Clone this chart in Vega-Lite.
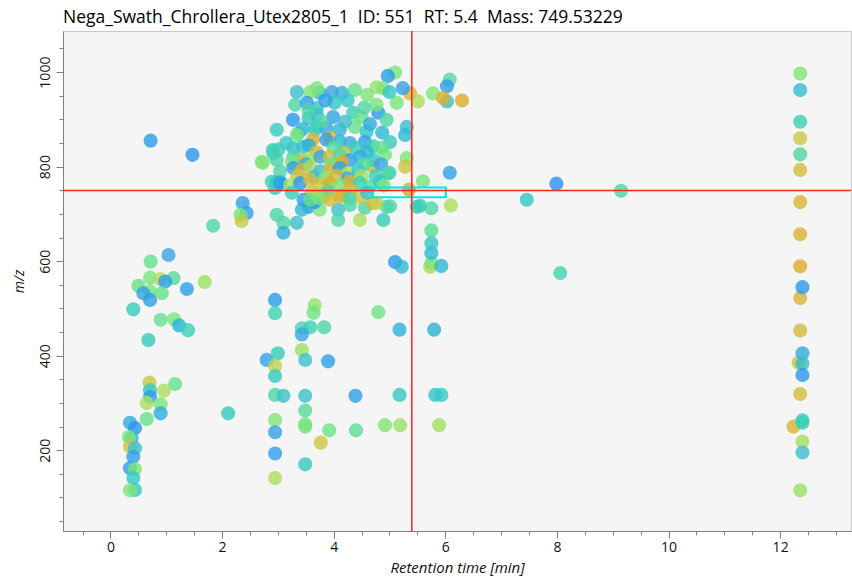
{
  "$schema": "https://vega.github.io/schema/vega-lite/v6.json",
  "width": 788,
  "height": 500,
  "autosize": {"type": "none"},
  "padding": {"left": 63, "top": 31, "right": 1, "bottom": 49},
  "background": "white",
  "config": {"view": {"fill": "#f5f5f5", "stroke": "#c8c8c8"}, "font": "Open Sans"},
  "title": {"text": "Nega_Swath_Chrollera_Utex2805_1\u00a0 ID: 551\u00a0 RT: 5.4\u00a0 Mass: 749.53229", "anchor": "start", "frame": "group", "offset": 4, "fontSize": 17.5, "fontWeight": "normal", "color": "#000000", "font": "Open Sans"},
  "resolve": {"axis": {"x": "independent", "y": "independent"}},
  "layer": [
    {
      "data": {"values": [
        {"t":0.72,"m":855,"c":0.08},{"t":1.47,"m":825,"c":0.05},{"t":2.73,"m":808,"c":0.62},{"t":2.37,"m":723,"c":0.12},{"t":2.44,"m":702,"c":0.10},{"t":2.33,"m":698,"c":0.60},{"t":2.35,"m":685,"c":0.82},{"t":1.84,"m":675,"c":0.45},
        {"t":1.04,"m":613,"c":0.15},{"t":0.72,"m":599,"c":0.55},{"t":0.50,"m":548,"c":0.55},{"t":0.71,"m":565,"c":0.60},{"t":0.89,"m":562,"c":0.75},{"t":1.13,"m":564,"c":0.50},{"t":0.98,"m":557,"c":0.10},{"t":0.71,"m":536,"c":0.60},{"t":0.59,"m":532,"c":0.12},{"t":0.71,"m":518,"c":0.10},{"t":0.92,"m":532,"c":0.55},{"t":1.37,"m":541,"c":0.10},{"t":1.69,"m":556,"c":0.68},{"t":0.41,"m":498,"c":0.38},{"t":0.90,"m":476,"c":0.55},{"t":1.14,"m":477,"c":0.60},{"t":1.23,"m":464,"c":0.22},{"t":1.39,"m":454,"c":0.40},{"t":0.68,"m":433,"c":0.38},
        {"t":0.70,"m":343,"c":0.82},{"t":0.71,"m":327,"c":0.35},{"t":0.71,"m":313,"c":0.08},{"t":0.96,"m":326,"c":0.72},{"t":1.16,"m":340,"c":0.55},{"t":0.65,"m":300,"c":0.72},{"t":0.90,"m":297,"c":0.60},{"t":0.90,"m":278,"c":0.20},{"t":0.65,"m":266,"c":0.55},{"t":2.11,"m":278,"c":0.38},
        {"t":0.35,"m":258,"c":0.18},{"t":0.44,"m":247,"c":0.02},{"t":0.38,"m":226,"c":0.22},{"t":0.33,"m":228,"c":0.60},{"t":0.35,"m":208,"c":0.85},{"t":0.44,"m":204,"c":0.30},{"t":0.41,"m":186,"c":0.10},{"t":0.35,"m":162,"c":0.10},{"t":0.44,"m":160,"c":0.60},{"t":0.41,"m":141,"c":0.35},{"t":0.44,"m":116,"c":0.35},{"t":0.35,"m":115,"c":0.62},
        {"t":2.95,"m":518,"c":0.08},{"t":2.95,"m":490,"c":0.42},{"t":3.66,"m":507,"c":0.65},{"t":3.64,"m":491,"c":0.58},{"t":4.80,"m":492,"c":0.58},{"t":3.43,"m":458,"c":0.45},{"t":3.58,"m":460,"c":0.40},{"t":3.83,"m":460,"c":0.45},{"t":3.43,"m":445,"c":0.15},{"t":5.18,"m":455,"c":0.20},{"t":5.80,"m":455,"c":0.22},
        {"t":3.43,"m":412,"c":0.68},{"t":3.49,"m":391,"c":0.32},{"t":3.90,"m":388,"c":0.10},{"t":2.80,"m":391,"c":0.12},{"t":3.00,"m":405,"c":0.38},{"t":2.95,"m":378,"c":0.80},{"t":2.95,"m":357,"c":0.38},{"t":2.95,"m":317,"c":0.45},{"t":3.10,"m":315,"c":0.32},{"t":3.49,"m":315,"c":0.32},{"t":4.39,"m":315,"c":0.10},{"t":5.18,"m":317,"c":0.35},{"t":5.82,"m":317,"c":0.35},{"t":5.93,"m":317,"c":0.35},
        {"t":3.49,"m":284,"c":0.50},{"t":2.95,"m":264,"c":0.62},{"t":2.95,"m":238,"c":0.12},{"t":3.49,"m":255,"c":0.62},{"t":3.49,"m":250,"c":0.58},{"t":3.92,"m":242,"c":0.56},{"t":4.40,"m":242,"c":0.52},{"t":4.92,"m":253,"c":0.62},{"t":5.19,"m":253,"c":0.68},{"t":5.89,"m":253,"c":0.70},{"t":3.77,"m":216,"c":0.85},{"t":2.95,"m":193,"c":0.10},{"t":3.49,"m":170,"c":0.38},{"t":2.95,"m":141,"c":0.72},
        {"t":5.10,"m":598,"c":0.05},{"t":5.22,"m":588,"c":0.25},{"t":5.73,"m":588,"c":0.80},{"t":5.75,"m":596,"c":0.60},{"t":5.93,"m":590,"c":0.25},{"t":5.75,"m":617,"c":0.25},{"t":5.75,"m":638,"c":0.35},{"t":5.75,"m":665,"c":0.50},{"t":5.75,"m":712,"c":0.45},{"t":5.55,"m":717,"c":0.40},{"t":6.10,"m":718,"c":0.72},{"t":5.60,"m":769,"c":0.60},{"t":6.08,"m":787,"c":0.12},
        {"t":7.46,"m":730,"c":0.35},{"t":7.99,"m":764,"c":0.02},{"t":9.15,"m":749,"c":0.45},{"t":8.06,"m":575,"c":0.42},
        {"t":2.98,"m":768,"c":0.15},{"t":2.95,"m":755,"c":0.35},{"t":3.55,"m":715,"c":0.05},{"t":3.43,"m":709,"c":0.25},{"t":2.98,"m":698,"c":0.45},{"t":3.10,"m":681,"c":0.45},{"t":3.34,"m":681,"c":0.30},{"t":3.10,"m":660,"c":0.20},{"t":3.75,"m":709,"c":0.60},{"t":4.08,"m":709,"c":0.30},{"t":4.08,"m":687,"c":0.45},{"t":4.47,"m":687,"c":0.72},{"t":4.29,"m":719,"c":0.45},{"t":4.56,"m":713,"c":0.45},{"t":4.70,"m":723,"c":0.92},{"t":4.95,"m":715,"c":0.45},{"t":4.89,"m":687,"c":0.38},{"t":3.66,"m":725,"c":0.05},{"t":3.84,"m":740,"c":0.88},{"t":4.15,"m":740,"c":0.95},{"t":4.47,"m":736,"c":0.85},{"t":5.49,"m":715,"c":0.38},
        {"t":5.10,"m":999,"c":0.60},{"t":4.97,"m":992,"c":0.08},{"t":5.37,"m":955,"c":0.90},{"t":5.51,"m":938,"c":0.72},{"t":5.78,"m":955,"c":0.62},{"t":6.08,"m":984,"c":0.48},{"t":6.03,"m":970,"c":0.10},{"t":6.03,"m":938,"c":0.30},{"t":6.30,"m":940,"c":0.97},{"t":5.96,"m":945,"c":0.95},{"t":5.13,"m":935,"c":0.60},{"t":4.89,"m":966,"c":0.60},{"t":4.77,"m":968,"c":0.65},{"t":5.00,"m":958,"c":0.35},{"t":5.24,"m":966,"c":0.12},{"t":4.60,"m":952,"c":0.62},{"t":4.38,"m":962,"c":0.55},{"t":4.15,"m":956,"c":0.25},{"t":3.97,"m":958,"c":0.15},{"t":3.75,"m":956,"c":0.25},{"t":3.70,"m":966,"c":0.60},{"t":3.58,"m":958,"c":0.62},{"t":3.34,"m":958,"c":0.30},
        {"t":4.02,"m":935,"c":0.35},{"t":3.70,"m":924,"c":0.35},{"t":3.31,"m":931,"c":0.45},{"t":3.52,"m":935,"c":0.10},{"t":4.80,"m":914,"c":0.05},{"t":4.35,"m":914,"c":0.40},{"t":4.77,"m":931,"c":0.60},{"t":3.27,"m":899,"c":0.05},{"t":2.98,"m":878,"c":0.38},{"t":3.70,"m":884,"c":0.35},{"t":3.99,"m":905,"c":0.12},{"t":4.11,"m":878,"c":0.25},{"t":4.38,"m":884,"c":0.55},{"t":5.31,"m":884,"c":0.30},{"t":5.28,"m":867,"c":0.25},{"t":4.87,"m":872,"c":0.25},{"t":5.01,"m":852,"c":0.38},
        {"t":3.55,"m":903,"c":0.35},{"t":3.70,"m":910,"c":0.30},{"t":4.95,"m":899,"c":0.45},{"t":3.37,"m":871,"c":0.45},{"t":3.67,"m":878,"c":0.40},{"t":3.87,"m":881,"c":0.15},{"t":4.59,"m":874,"c":0.35},{"t":3.45,"m":880,"c":0.25},{"t":3.80,"m":895,"c":0.45},{"t":4.20,"m":895,"c":0.30},{"t":4.50,"m":905,"c":0.55},{"t":4.65,"m":890,"c":0.20},{"t":3.55,"m":920,"c":0.45},{"t":4.25,"m":940,"c":0.35},{"t":4.55,"m":925,"c":0.45},{"t":3.85,"m":940,"c":0.10},
        {"t":3.34,"m":867,"c":0.60},{"t":3.63,"m":857,"c":0.95},{"t":3.93,"m":861,"c":0.92},{"t":3.45,"m":842,"c":0.35},{"t":4.29,"m":850,"c":0.15},{"t":4.56,"m":852,"c":0.10},{"t":2.91,"m":835,"c":0.38},{"t":2.98,"m":814,"c":0.45},{"t":2.71,"m":810,"c":0.62},{"t":4.92,"m":825,"c":0.60},{"t":5.31,"m":818,"c":0.60},{"t":5.28,"m":800,"c":0.85},{"t":5.00,"m":787,"c":0.45},{"t":4.70,"m":800,"c":0.90},{"t":3.04,"m":768,"c":0.08},
        {"t":3.01,"m":836,"c":0.40},{"t":3.28,"m":839,"c":0.30},{"t":3.87,"m":857,"c":0.10},{"t":4.11,"m":853,"c":0.25},{"t":4.71,"m":843,"c":0.40},{"t":3.15,"m":850,"c":0.35},{"t":3.55,"m":845,"c":0.20},{"t":3.70,"m":830,"c":0.92},{"t":4.00,"m":840,"c":0.50},{"t":4.20,"m":830,"c":0.85},{"t":4.40,"m":840,"c":0.40},{"t":4.60,"m":830,"c":0.25},{"t":4.85,"m":840,"c":0.55},
        {"t":2.92,"m":828,"c":0.42},{"t":3.28,"m":821,"c":0.45},{"t":3.46,"m":814,"c":0.90},{"t":3.58,"m":818,"c":0.70},{"t":3.76,"m":821,"c":0.15},{"t":3.93,"m":821,"c":0.88},{"t":4.11,"m":825,"c":0.45},{"t":4.29,"m":814,"c":0.10},{"t":4.47,"m":821,"c":0.20},{"t":4.71,"m":814,"c":0.35},{"t":3.25,"m":810,"c":0.60},{"t":3.50,"m":805,"c":0.20},{"t":3.95,"m":805,"c":0.55},{"t":4.15,"m":810,"c":0.95},{"t":4.55,"m":805,"c":0.50},{"t":4.85,"m":805,"c":0.15},
        {"t":3.04,"m":790,"c":0.45},{"t":3.28,"m":797,"c":0.10},{"t":3.43,"m":793,"c":0.92},{"t":3.58,"m":800,"c":0.72},{"t":3.76,"m":790,"c":0.30},{"t":3.93,"m":793,"c":0.90},{"t":4.11,"m":797,"c":0.10},{"t":4.26,"m":786,"c":0.75},{"t":4.44,"m":793,"c":0.35},{"t":4.98,"m":786,"c":0.45},{"t":3.35,"m":780,"c":0.85},{"t":3.65,"m":778,"c":0.30},{"t":3.85,"m":775,"c":0.65},{"t":4.05,"m":780,"c":0.90},{"t":4.25,"m":775,"c":0.15},{"t":4.50,"m":780,"c":0.70},{"t":4.75,"m":780,"c":0.40},
        {"t":2.89,"m":768,"c":0.40},{"t":3.04,"m":765,"c":0.10},{"t":3.22,"m":761,"c":0.72},{"t":3.40,"m":765,"c":0.05},{"t":3.58,"m":772,"c":0.90},{"t":3.76,"m":761,"c":0.85},{"t":3.93,"m":765,"c":0.95},{"t":4.11,"m":761,"c":0.60},{"t":4.29,"m":768,"c":0.92},{"t":4.47,"m":765,"c":0.40},{"t":4.65,"m":758,"c":0.50},{"t":4.83,"m":768,"c":0.35},{"t":4.90,"m":760,"c":0.60},
        {"t":3.25,"m":745,"c":0.40},{"t":3.60,"m":745,"c":0.85},{"t":3.90,"m":748,"c":0.45},{"t":4.30,"m":750,"c":0.90},{"t":4.60,"m":745,"c":0.30},
        {"t":3.46,"m":730,"c":0.10},{"t":3.58,"m":730,"c":0.55},{"t":3.76,"m":733,"c":0.60},{"t":3.93,"m":730,"c":0.88},{"t":4.11,"m":737,"c":0.92},{"t":4.29,"m":733,"c":0.45},{"t":4.77,"m":723,"c":0.80},{"t":5.01,"m":716,"c":0.45},
        {"t":5.35,"m":751,"c":0.98},
        {"t":12.36,"m":997,"c":0.62},{"t":12.36,"m":962,"c":0.28},{"t":12.36,"m":895,"c":0.40},{"t":12.36,"m":860,"c":0.83},{"t":12.36,"m":826,"c":0.45},{"t":12.36,"m":793,"c":0.88},{"t":12.36,"m":725,"c":0.92},{"t":12.36,"m":657,"c":0.93},{"t":12.36,"m":589,"c":0.97},{"t":12.36,"m":522,"c":0.92},{"t":12.40,"m":545,"c":0.05},{"t":12.36,"m":453,"c":0.88},{"t":12.33,"m":385,"c":0.85},{"t":12.40,"m":405,"c":0.18},{"t":12.40,"m":383,"c":0.28},{"t":12.40,"m":359,"c":0.05},{"t":12.36,"m":319,"c":0.88},{"t":12.24,"m":250,"c":0.92},{"t":12.40,"m":263,"c":0.38},{"t":12.40,"m":258,"c":0.40},{"t":12.40,"m":218,"c":0.70},{"t":12.40,"m":195,"c":0.30},{"t":12.36,"m":115,"c":0.68}
      ]},
      "mark": {"type": "circle", "size": 200, "opacity": 0.8},
      "encoding": {
        "x": {"field": "t", "type": "quantitative", "scale": {"domain": [-0.85, 13.27], "nice": false, "zero": false},
          "axis": {"orient": "bottom", "values": [0, 2, 4, 6, 8, 10, 12], "grid": false, "tickSize": 7, "tickColor": "#808080", "domainColor": "#808080", "labelFontSize": 14, "labelColor": "#111111", "labelPadding": 2, "labelFlush": false, "title": "Retention time [min]", "titleFontStyle": "italic", "titleFontWeight": "normal", "titleFontSize": 15, "titleColor": "#111111", "titlePadding": 6}},
        "y": {"field": "m", "type": "quantitative", "scale": {"domain": [29, 1087], "nice": false, "zero": false},
          "axis": {"orient": "left", "values": [200, 400, 600, 800, 1000], "format": "d", "grid": false, "tickSize": 7, "tickColor": "#808080", "domainColor": "#808080", "labelFontSize": 14, "labelColor": "#111111", "labelAngle": 270, "labelAlign": "center", "labelBaseline": "bottom", "labelPadding": 4, "labelFlush": false, "title": "m/z", "titleFontStyle": "italic", "titleFontWeight": "normal", "titleFontSize": 14, "titleColor": "#111111", "titlePadding": 12}},
        "color": {"field": "c", "type": "quantitative", "legend": null,
          "scale": {"domain": [0, 0.15, 0.3, 0.45, 0.6, 0.75, 0.9, 1], "range": ["#2f8ff2", "#3aa6e2", "#3ebfcc", "#4fd6a6", "#78e67a", "#b6dc5a", "#d6b83a", "#e2a424"]}}
      }
    },
    {
      "data": {"values": [{"t": 0, "m": 500}]},
      "mark": {"type": "point", "opacity": 0},
      "encoding": {
        "x": {"field": "t", "type": "quantitative", "axis": {"orient": "bottom", "values": [-0.5, 0.5, 1, 1.5, 2.5, 3, 3.5, 4.5, 5, 5.5, 6.5, 7, 7.5, 8.5, 9, 9.5, 10.5, 11, 11.5, 12.5, 13], "labels": false, "domain": false, "grid": false, "tickSize": 4, "tickColor": "#808080", "title": null}},
        "y": {"field": "m", "type": "quantitative", "axis": {"orient": "left", "values": [50, 100, 150, 250, 300, 350, 450, 500, 550, 650, 700, 750, 850, 900, 950, 1050], "labels": false, "domain": false, "grid": false, "tickSize": 4, "tickColor": "#808080", "title": null}}
      }
    },
    {
      "data": {"values": [{"x1": 4.69, "x2": 6.01, "y1": 735, "y2": 756}]},
      "mark": {"type": "rect", "fillOpacity": 0, "stroke": "#00e8f0", "strokeWidth": 2},
      "encoding": {
        "x": {"field": "x1", "type": "quantitative", "axis": null},
        "x2": {"field": "x2"},
        "y": {"field": "y1", "type": "quantitative", "axis": null},
        "y2": {"field": "y2"}
      }
    },
    {
      "data": {"values": [{"rt": 5.4, "mass": 749.53229}]},
      "mark": {"type": "rule", "color": "#ff2020", "strokeWidth": 1.5},
      "encoding": {"x": {"field": "rt", "type": "quantitative", "axis": null}}
    },
    {
      "data": {"values": [{"rt": 5.4, "mass": 749.53229}]},
      "mark": {"type": "rule", "color": "#ff2020", "strokeWidth": 1.5},
      "encoding": {"y": {"field": "mass", "type": "quantitative", "axis": null}}
    }
  ]
}
